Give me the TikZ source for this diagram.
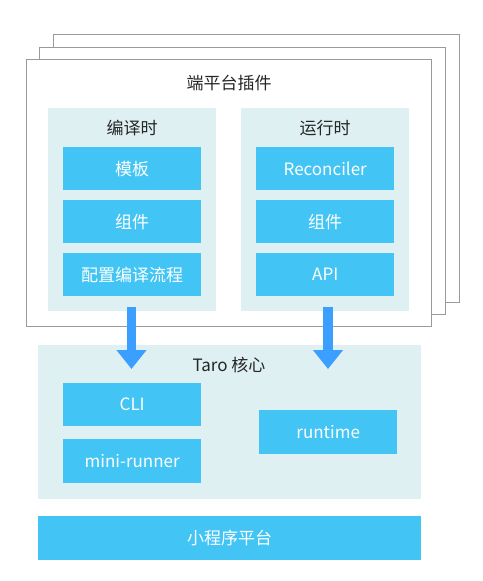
\documentclass[tikz,border=0pt]{standalone}
\usepackage{fontspec}
\setmainfont{Noto Sans CJK SC}
\usetikzlibrary{arrows.meta,positioning}
\definecolor{boxblue}{HTML}{42C5F5}
\definecolor{panelbg}{HTML}{DFF0F3}
\definecolor{arrowblue}{HTML}{3A9FFF}
\definecolor{framegray}{HTML}{9A9A9A}

\begin{document}
\begin{tikzpicture}[x=1pt, y=-1pt,
    frame/.style={rectangle, draw=framegray, line width=1pt, fill=white, anchor=north west, inner sep=0pt, outer sep=0pt},
    panel/.style={rectangle, fill=panelbg, anchor=north west, inner sep=0pt, outer sep=0pt},
    item/.style={rectangle, fill=boxblue, text=white, minimum width=138pt, minimum height=43pt, anchor=north west, inner sep=0pt, font=\fontsize{17}{20}\selectfont},
    heading/.style={text=black!85, inner sep=0pt, font=\fontsize{17}{20}\selectfont},
    flow/.style={draw=arrowblue, line width=9.5pt, -{Triangle[length=19pt, width=29pt]}}]
    \useasboundingbox (0,0) rectangle (482,581);

    % stacked plugin frames
    \node[frame, minimum width=406pt, minimum height=268pt] (plugin3) at (53,34) {};
    \node[frame, minimum width=406pt, minimum height=267pt] (plugin2) at (39,47) {};
    \node[frame, minimum width=405pt, minimum height=267pt] (plugin) at (26,59) {};
    \node[heading] (plugintitle) at (229,83) {端平台插件};

    % compile time
    \node[panel, minimum width=168pt, minimum height=203pt] (compile) at (48,108) {};
    \node[heading] (compiletitle) at (132,128) {编译时};
    \node[item] (template) at (63,147) {模板};
    \node[item] (compcomp) at (63,200) {组件};
    \node[item] (buildflow) at (63,253) {配置编译流程};

    % run time
    \node[panel, minimum width=168pt, minimum height=203pt] (run) at (241,108) {};
    \node[heading] (runtitle) at (325,128) {运行时};
    \node[item] (reconciler) at (256,147) {Reconciler};
    \node[item] (runcomp) at (256,200) {组件};
    \node[item] (api) at (256,253) {API};

    % taro core
    \node[panel, minimum width=383pt, minimum height=154pt] (core) at (38,345) {};
    \node[heading] (coretitle) at (229,365) {Taro 核心};
    \node[item] (cli) at (63,383) {CLI};
    \node[item, minimum height=44pt] (runner) at (63,439) {mini-runner};
    \node[item, minimum height=44pt] (runtime) at (259,410) {runtime};

    % platform
    \node[item, minimum width=383pt, minimum height=44pt] (platform) at (38,516) {小程序平台};

    \coordinate (compiletip) at (131.5,369);
    \coordinate (runtip) at (328,369);
    \draw[flow] ([yshift=4pt]compile.south -| compiletip) -- (compiletip);
    \draw[flow] ([yshift=4pt]run.south -| runtip) -- (runtip);
\end{tikzpicture}
\end{document}
